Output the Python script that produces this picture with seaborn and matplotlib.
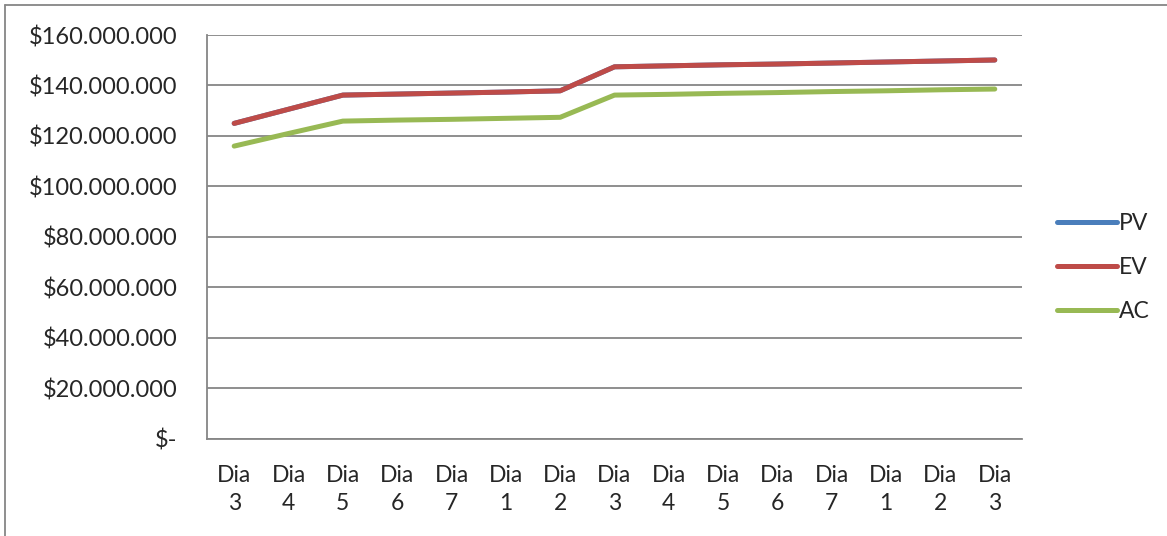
import matplotlib
matplotlib.use("Agg")
import matplotlib.pyplot as plt
from matplotlib.ticker import FuncFormatter, FixedLocator, MultipleLocator
from matplotlib.lines import Line2D
import seaborn as sns
import pandas as pd

# Daily labels of the project timeline
days = ["Dia\n3", "Dia\n4", "Dia\n5", "Dia\n6", "Dia\n7", "Dia\n1", "Dia\n2",
        "Dia\n3", "Dia\n4", "Dia\n5", "Dia\n6", "Dia\n7", "Dia\n1", "Dia\n2", "Dia\n3"]

# Earned value management series (in $)
ev = [125.0e6, 130.6e6, 136.2e6, 136.6e6, 137.0e6, 137.4e6, 137.9e6, 147.4e6,
      147.8e6, 148.2e6, 148.5e6, 148.9e6, 149.3e6, 149.7e6, 150.1e6]
pv = list(ev)  # planned value coincides with earned value
ac = [116.0e6, 121.0e6, 125.9e6, 126.3e6, 126.6e6, 127.0e6, 127.4e6, 136.2e6,
      136.5e6, 136.9e6, 137.2e6, 137.6e6, 137.9e6, 138.3e6, 138.6e6]

series_names = ["PV", "EV", "AC"]
colors = {"PV": "#4A7EBB", "EV": "#BE4B48", "AC": "#98B954"}

frames = []
for name, vals in zip(series_names, [pv, ev, ac]):
    frames.append(pd.DataFrame({"idx": range(len(days)), "valor": vals, "serie": name}))
df = pd.concat(frames, ignore_index=True)

sns.set_style("white")
plt.rcParams["font.family"] = ["Lato", "DejaVu Sans"]

fig = plt.figure(figsize=(11.67, 5.36), dpi=100)
ax = fig.add_axes([0.1774, 0.181, 0.8757 - 0.1774, 0.9347 - 0.181])

sns.lineplot(data=df, x="idx", y="valor", hue="serie", hue_order=series_names,
             palette=colors, linewidth=3.6, ax=ax, legend=False,
             solid_capstyle="round", sort=False)

grid_c = "#868686"
ax.set_xlim(-0.5, len(days) - 0.5)
ax.set_ylim(0, 160e6)
ax.yaxis.set_major_locator(MultipleLocator(20e6))
ax.yaxis.grid(True, color=grid_c, linewidth=1.3)
ax.set_axisbelow(True)


def money(v, pos):
    if abs(v) < 1:
        return "$-"
    return "$" + f"{int(round(v)):,}".replace(",", ".")


ax.yaxis.set_major_formatter(FuncFormatter(money))
ax.set_xticks(range(len(days)))
ax.set_xticklabels(days, linespacing=1.4)
ax.xaxis.set_minor_locator(FixedLocator([i - 0.5 for i in range(len(days) + 1)]))
ax.tick_params(axis="x", which="major", length=0, pad=19, labelsize=16.5)
ax.tick_params(axis="x", which="minor", length=7, width=1.3, color=grid_c, direction="out")
ax.tick_params(axis="y", length=7, width=1.3, color=grid_c, direction="out", pad=14,
               labelsize=17)
ax.set_xlabel("")
ax.set_ylabel("")
for s in ["top", "right"]:
    ax.spines[s].set_visible(False)
for s in ["left", "bottom"]:
    ax.spines[s].set_color(grid_c)
    ax.spines[s].set_linewidth(1.3)

handles = [Line2D([0], [0], color=colors[n], linewidth=3.6, solid_capstyle="round")
           for n in series_names]
fig.legend(handles, series_names, loc="upper left", bbox_to_anchor=(0.898, 0.62),
           frameon=False, fontsize=16.5, handlelength=2.6, handletextpad=0.1,
           labelspacing=1.0, borderaxespad=0)

# Outer chart frame (left and top edges)
fig.add_artist(Line2D([0.0045, 0.0045], [0, 0.991], color=grid_c, linewidth=1.3,
                      transform=fig.transFigure))
fig.add_artist(Line2D([0.0045, 1.0], [0.991, 0.991], color=grid_c, linewidth=1.3,
                      transform=fig.transFigure))

fig.savefig("out.png", dpi=100)
